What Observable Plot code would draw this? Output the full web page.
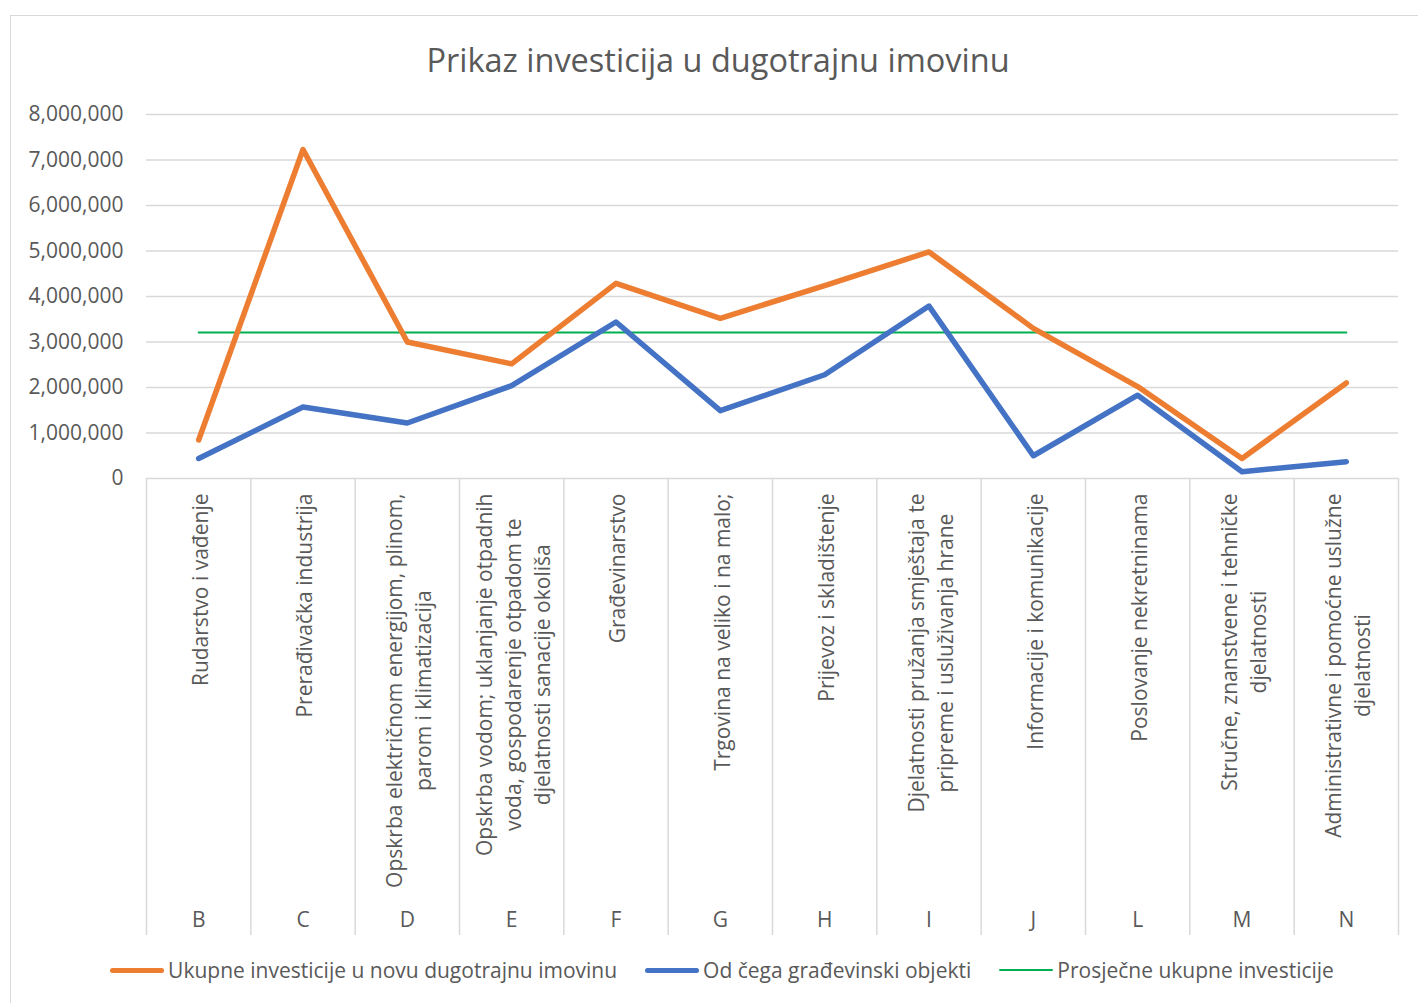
<!DOCTYPE html>
<html>
<head>
<meta charset="utf-8">
<script src="https://cdn.jsdelivr.net/npm/d3@7"></script>
<script src="https://cdn.jsdelivr.net/npm/@observablehq/plot@0.6"></script>
<style>
html, body { margin: 0; padding: 0; background: #fff; }
body { width: 1418px; height: 1003px; overflow: hidden; position: relative; font-family: "Open Sans", sans-serif; color: #595959; }
#frame { position: absolute; left: 10px; top: 15px; width: 1430px; height: 1010px; border: 1.5px solid #d9d9d9; box-sizing: border-box; pointer-events: none; }
#title { height: 95px; box-sizing: border-box; padding-top: 40px; padding-left: 18px; line-height: 40px; font-size: 32.5px; text-align: center; color: #595959; }
#chart { height: 850px; }
#legend { height: 50px; display: flex; justify-content: center; align-items: center; padding-left: 26px; font-size: 21px; color: #595959; }
.item { display: flex; align-items: center; margin: 0 14px; }
.sw { width: 54px; margin-right: 4px; border-radius: 3px; }
</style>
</head>
<body>
<div id="frame"></div>
<div id="title">Prikaz investicija u dugotrajnu imovinu</div>
<div id="chart"></div>
<div id="legend"></div>
<script>
// ---- data ----
const codes = ["B", "C", "D", "E", "F", "G", "H", "I", "J", "L", "M", "N"];
const names = [
  "Rudarstvo i vađenje",
  "Prerađivačka industrija",
  "Opskrba električnom energijom, plinom,\nparom i klimatizacija",
  "Opskrba vodom; uklanjanje otpadnih\nvoda, gospodarenje otpadom te\ndjelatnosti sanacije okoliša",
  "Građevinarstvo",
  "Trgovina na veliko i na malo;",
  "Prijevoz i skladištenje",
  "Djelatnosti pružanja smještaja te\npripreme i usluživanja hrane",
  "Informacije i komunikacije",
  "Poslovanje nekretninama",
  "Stručne, znanstvene i tehničke\ndjelatnosti",
  "Administrativne i pomoćne uslužne\ndjelatnosti"
];
const totalInvest = [846000, 7230000, 3000000, 2520000, 4290000, 3520000, 4240000, 4980000, 3300000, 2020000, 440000, 2100000];
const buildingInvest = [440000, 1570000, 1220000, 2040000, 3440000, 1490000, 2280000, 3790000, 500000, 1830000, 150000, 370000];
const averageInvest = [3210000, 3210000, 3210000, 3210000, 3210000, 3210000, 3210000, 3210000, 3210000, 3210000, 3210000, 3210000];
const yTicks = [0, 1000000, 2000000, 3000000, 4000000, 5000000, 6000000, 7000000, 8000000];
const seriesNames = ["Ukupne investicije u novu dugotrajnu imovinu", "Od čega građevinski objekti", "Prosječne ukupne investicije"];
const seriesColors = ["#ED7D31", "#4472C4", "#00B050"];

// ---- build tables ----
const rowsTotal = codes.map((c, i) => ({code: c, value: totalInvest[i]}));
const rowsBuilding = codes.map((c, i) => ({code: c, value: buildingInvest[i]}));
const rowsAverage = codes.map((c, i) => ({code: c, value: averageInvest[i]}));
const labelRows = codes.map((c, i) => ({code: c, name: names[i]}));

const W = 1418, H = 850, mL = 146, mR = 20, mT = 19, mB = 467;
const step = (W - mL - mR) / codes.length;
const frameH = H - mT - mB;

const chart = Plot.plot({
  width: W,
  height: H,
  marginLeft: mL,
  marginRight: mR,
  marginTop: mT,
  marginBottom: mB,
  style: {fontFamily: "Open Sans", fontSize: "21px", color: "#595959", background: "transparent", overflow: "visible"},
  x: {type: "point", domain: codes, padding: 0.5, round: false, axis: null},
  y: {domain: [0, 8000000], ticks: yTicks, tickFormat: d3.format(","), tickSize: 0, tickPadding: 23, label: null},
  marks: [
    Plot.ruleY(yTicks, {stroke: "#d9d9d9", strokeWidth: 1.5}),
    Plot.ruleX(codes, {x: d => d, dx: -step / 2, stroke: "#d9d9d9", strokeWidth: 1.5, insetTop: frameH, insetBottom: -457}),
    Plot.ruleX(codes.slice(-1), {x: d => d, dx: step / 2, stroke: "#d9d9d9", strokeWidth: 1.5, insetTop: frameH, insetBottom: -457}),
    Plot.text(labelRows, {x: "code", text: "name", frameAnchor: "bottom", dy: 15, rotate: -90, textAnchor: "middle", lineAnchor: "middle", lineHeight: 1.4, fontSize: 21, fill: "#595959"}),
    Plot.text(codes, {x: d => d, text: d => d, frameAnchor: "bottom", dy: 442, lineAnchor: "middle", fontSize: 21, fill: "#595959"}),
    Plot.line(rowsAverage, {x: "code", y: "value", stroke: seriesColors[2], strokeWidth: 2}),
    Plot.line(rowsBuilding, {x: "code", y: "value", stroke: seriesColors[1], strokeWidth: 5.5}),
    Plot.line(rowsTotal, {x: "code", y: "value", stroke: seriesColors[0], strokeWidth: 5.5})
  ]
});
document.getElementById("chart").appendChild(chart);

// shift rotated labels so their longest line starts just below the axis
d3.select(chart).selectAll("text").each(function() {
  const t = this.getAttribute("transform") || "";
  if (!t.includes("rotate")) return;
  const bb = this.getBBox();
  this.setAttribute("transform", `translate(0,${bb.width / 2}) ` + t);
});

// legend
const lg = document.getElementById("legend");
seriesNames.forEach((n, i) => {
  const it = document.createElement("div");
  it.className = "item";
  const sw = document.createElement("div");
  sw.className = "sw";
  sw.style.background = seriesColors[i];
  sw.style.height = i < 2 ? "5px" : "2px";
  const tx = document.createElement("span");
  tx.textContent = n;
  it.appendChild(sw);
  it.appendChild(tx);
  lg.appendChild(it);
});
</script>
</body>
</html>
